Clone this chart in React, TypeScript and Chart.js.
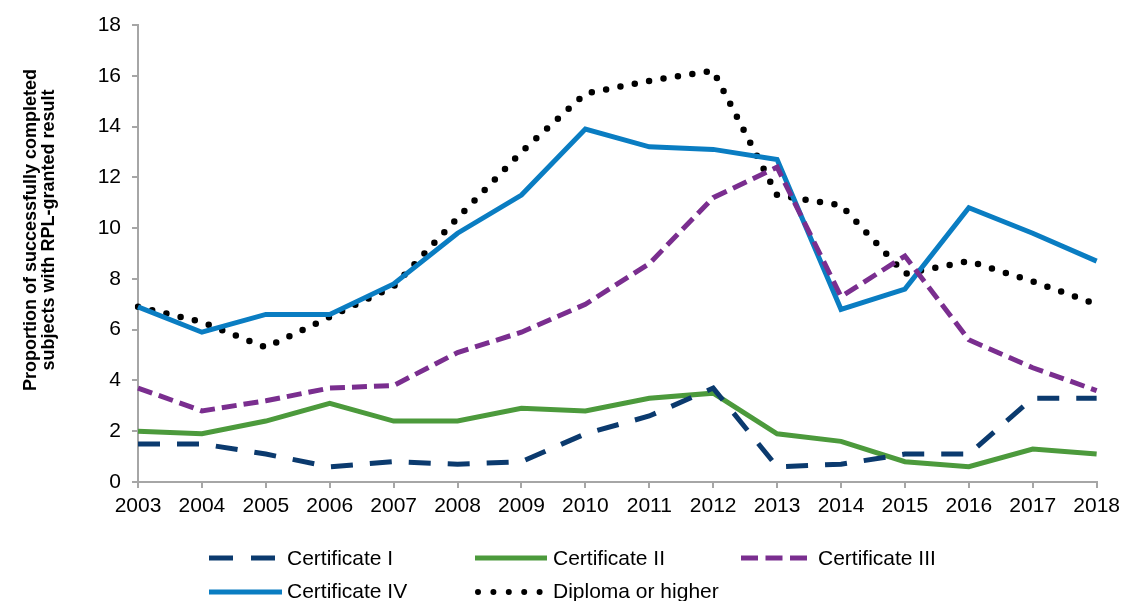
import React, { useEffect, useRef } from "react";
import { Chart, registerables } from "chart.js";

Chart.register(...registerables);

const years = ["2003","2004","2005","2006","2007","2008","2009","2010","2011","2012","2013","2014","2015","2016","2017","2018"];
const certI = [1.5, 1.5, 1.1, 0.6, 0.8, 0.7, 0.8, 1.9, 2.6, 3.7, 0.6, 0.7, 1.1, 1.1, 3.3, 3.3];
const certII = [2.0, 1.9, 2.4, 3.1, 2.4, 2.4, 2.9, 2.8, 3.3, 3.5, 1.9, 1.6, 0.8, 0.6, 1.3, 1.1];
const certIII = [3.7, 2.8, 3.2, 3.7, 3.8, 5.1, 5.9, 7.0, 8.6, 11.2, 12.4, 7.3, 8.9, 5.6, 4.5, 3.6];
const certIV = [6.9, 5.9, 6.6, 6.6, 7.8, 9.8, 11.3, 13.9, 13.2, 13.1, 12.7, 6.8, 7.6, 10.8, 9.8, 8.7];
const diploma = [6.9, 6.3, 5.3, 6.5, 7.7, 10.4, 13.0, 15.3, 15.8, 16.2, 11.3, 10.9, 8.2, 8.7, 7.9, 7.0];
const yTitleLines = ["Proportion of successfully completed", "subjects with RPL-granted result"];

const NAVY = "#0B3A6E";
const GREEN = "#4C9A3C";
const PURPLE = "#7A2E8F";
const BLUE = "#0A7DC2";
const BLACK = "#000000";
const AXIS = "#A6A6A6";
const FONT = "'Liberation Sans', Arial, sans-serif";

export default function App() {
  const ref = useRef<HTMLCanvasElement | null>(null);

  useEffect(() => {
    if (!ref.current) return;
    const chart = new Chart(ref.current, {
      type: "line",
      data: {
        labels: years,
        datasets: [
          { label: "Certificate I", data: certI, borderColor: NAVY, borderWidth: 5, borderDash: [22, 17], pointRadius: 0, tension: 0, fill: false },
          { label: "Certificate II", data: certII, borderColor: GREEN, borderWidth: 5, pointRadius: 0, tension: 0, fill: false },
          { label: "Certificate III", data: certIII, borderColor: PURPLE, borderWidth: 5, borderDash: [15, 7], pointRadius: 0, tension: 0, fill: false },
          { label: "Certificate IV", data: certIV, borderColor: BLUE, borderWidth: 5, pointRadius: 0, tension: 0, fill: false },
          { label: "Diploma or higher", data: diploma, borderColor: BLACK, borderWidth: 6.5, borderDash: [0, 14.6], borderCapStyle: "round", pointRadius: 0, tension: 0, fill: false },
        ],
      },
      options: {
        responsive: false,
        animation: false,
        layout: { padding: { left: 0, right: 28, top: 25, bottom: 74 } },
        plugins: { legend: { display: false }, tooltip: { enabled: false }, title: { display: false } },
        scales: {
          x: {
            type: "category",
            offset: false,
            grid: { display: true, drawOnChartArea: false, drawTicks: true, tickLength: 6, color: AXIS, lineWidth: 2 },
            border: { display: true, color: AXIS, width: 2 },
            ticks: { color: "#000", font: { family: FONT, size: 21 }, padding: 6, maxRotation: 0, autoSkip: false },
            afterFit: (s: any) => { s.height = 45; },
          },
          y: {
            min: 0,
            max: 18,
            grid: { display: true, drawOnChartArea: false, drawTicks: true, tickLength: 6, color: AXIS, lineWidth: 2 },
            border: { display: true, color: AXIS, width: 2 },
            ticks: { stepSize: 2, color: "#000", font: { family: FONT, size: 21 }, padding: 11 },
            afterFit: (s: any) => { s.width = 138; },
          },
        },
      },
    });
    return () => chart.destroy();
  }, []);

  const text: React.CSSProperties = {
    position: "absolute",
    fontFamily: FONT,
    fontSize: 21,
    lineHeight: "24px",
    color: "#000",
    whiteSpace: "nowrap",
  };

  return (
    <div style={{ position: "absolute", left: 0, top: 0, width: 1126, height: 601, background: "#fff", overflow: "hidden" }}>
      <canvas ref={ref} width={1126} height={601} style={{ position: "absolute", left: 0, top: 0, width: 1126, height: 601 }} />
      <div
        style={{
          position: "absolute",
          left: 38.5,
          top: 230,
          transform: "translate(-50%, -50%) rotate(-90deg)",
          fontFamily: FONT,
          fontWeight: "bold",
          fontSize: 18,
          lineHeight: "17.5px",
          textAlign: "center",
          whiteSpace: "nowrap",
          color: "#000",
        }}
      >
        {yTitleLines.map((l) => (
          <div key={l}>{l}</div>
        ))}
      </div>
      <svg width={1126} height={601} style={{ position: "absolute", left: 0, top: 0, pointerEvents: "none" }}>
        <line x1={209} y1={558} x2={275} y2={558} stroke={NAVY} strokeWidth={5} strokeDasharray="24 18" />
        <line x1={475} y1={558} x2={547} y2={558} stroke={GREEN} strokeWidth={5} />
        <line x1={741} y1={558} x2={807} y2={558} stroke={PURPLE} strokeWidth={5} strokeDasharray="17 7.5" />
        <line x1={209} y1={592} x2={282} y2={592} stroke={BLUE} strokeWidth={5} />
        <line x1={478} y1={592} x2={540} y2={592} stroke={BLACK} strokeWidth={6} strokeLinecap="round" strokeDasharray="0 15.4" />
      </svg>
      <span style={{ ...text, left: 287, top: 546.4 }}>Certificate I</span>
      <span style={{ ...text, left: 553, top: 546.4 }}>Certificate II</span>
      <span style={{ ...text, left: 818, top: 546.4 }}>Certificate III</span>
      <span style={{ ...text, left: 287, top: 579 }}>Certificate IV</span>
      <span style={{ ...text, left: 553, top: 579 }}>Diploma or higher</span>
    </div>
  );
}
